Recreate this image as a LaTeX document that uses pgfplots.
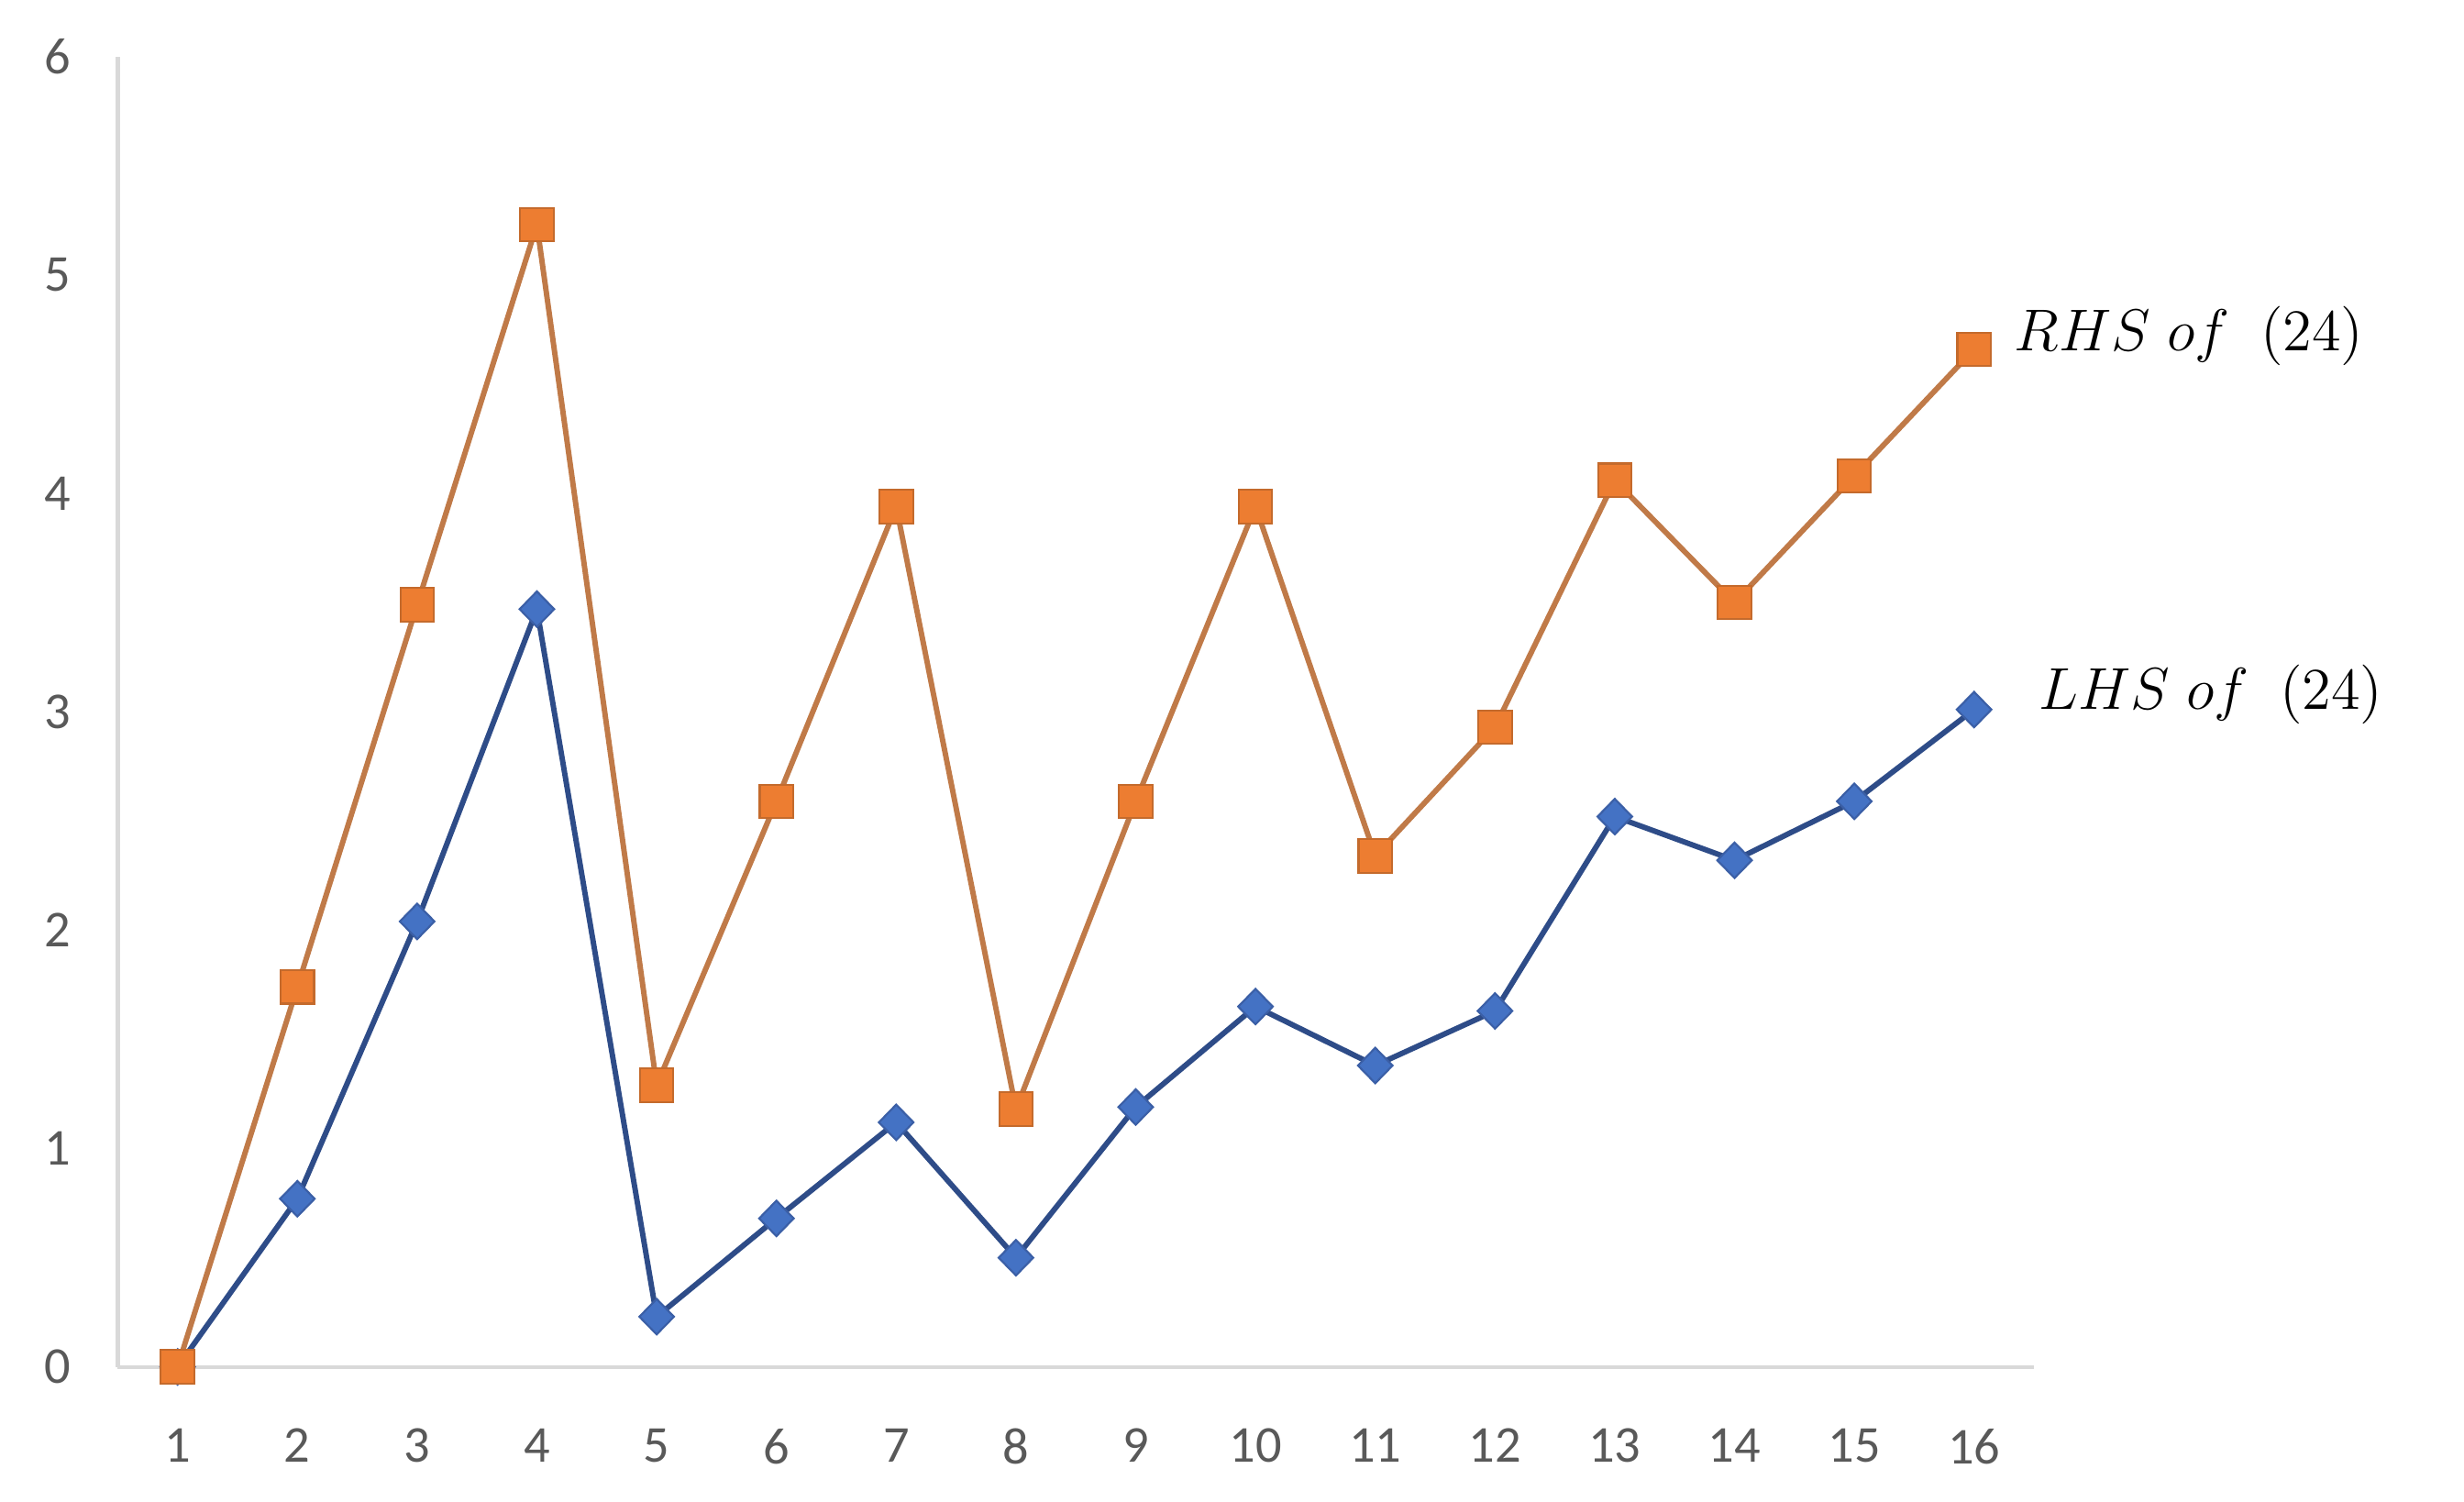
\documentclass[border=0pt]{standalone}
\usepackage{fontspec}
\setmainfont{Carlito}
\usepackage{pgfplots}
\pgfplotsset{compat=1.18}

\definecolor{axisgray}{HTML}{D9D9D9}
\definecolor{labelgray}{HTML}{595959}
\definecolor{rhsline}{HTML}{C07A48}
\definecolor{rhsmark}{HTML}{ED7D31}
\definecolor{rhsedge}{HTML}{C46A2C}
\definecolor{lhsline}{HTML}{2E4C88}
\definecolor{lhsmark}{HTML}{4472C4}
\definecolor{lhsedge}{HTML}{3B5FA6}

\begin{document}
\begin{tikzpicture}
\begin{axis}[
    scale only axis,
    width=389pt, height=266pt,
    xmin=0.5, xmax=16.5,
    ymin=0, ymax=6,
    axis x line*=bottom,
    axis y line*=left,
    axis line style={draw=axisgray, line width=0.8pt},
    xtick={1,...,16},
    ytick={0,...,6},
    major tick length=0pt,
    tick label style={font=\fontsize{10.5}{12}\selectfont, text=labelgray},
    /pgf/number format/assume math mode=true,
    yticklabel style={xshift=-6pt},
    xticklabel style={yshift=-9pt},
    clip=false,
]
% LHS of (24)
\addplot[draw=lhsline, line width=1.1pt,
    mark=diamond*, mark size=3.6pt,
    mark options={fill=lhsmark, draw=lhsedge, line width=0.4pt, xscale=1.3}]
coordinates {
    (1,0) (2,0.77) (3,2.04) (4,3.47) (5,0.23) (6,0.68) (7,1.12) (8,0.50)
    (9,1.19) (10,1.65) (11,1.38) (12,1.63) (13,2.52) (14,2.32) (15,2.59) (16,3.01)
};
% RHS of (24)
\addplot[draw=rhsline, line width=1.1pt,
    mark=square*, mark size=3.4pt,
    mark options={fill=rhsmark, draw=rhsedge, line width=0.4pt}]
coordinates {
    (1,0) (2,1.74) (3,3.49) (4,5.23) (5,1.29) (6,2.59) (7,3.94) (8,1.18)
    (9,2.59) (10,3.94) (11,2.34) (12,2.93) (13,4.06) (14,3.50) (15,4.08) (16,4.66)
};
\node[anchor=west, inner sep=0pt, font=\fontsize{13}{15}\selectfont]
    at (axis cs:16,4.72) [xshift=8pt] {$RHS\;of\;\ (24)$};
\node[anchor=west, inner sep=0pt, font=\fontsize{13}{15}\selectfont]
    at (axis cs:16,3.08) [xshift=13pt] {$LHS\;of\;\ (24)$};
\end{axis}
\pgfresetboundingbox
\path[use as bounding box] (-23.9pt,-27.4pt) rectangle (476.3pt,277.5pt);
\end{tikzpicture}
\end{document}
